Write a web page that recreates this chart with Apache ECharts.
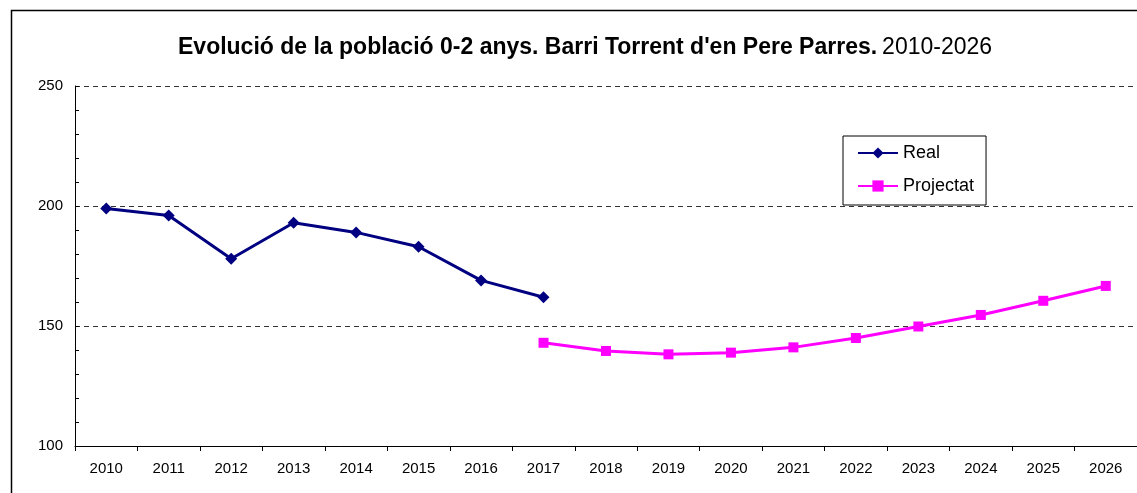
<!DOCTYPE html>
<html>
<head>
<meta charset="utf-8">
<script src="https://cdn.jsdelivr.net/npm/echarts@6/dist/echarts.min.js"></script>
<style>
  html, body { margin: 0; padding: 0; background: #fff; }
  #chart { width: 1137px; height: 493px; }
</style>
</head>
<body>
<div id="chart"></div>
<script>
var years = ["2010", "2011", "2012", "2013", "2014", "2015", "2016", "2017", "2018",
    "2019", "2020", "2021", "2022", "2023", "2024", "2025", "2026"];
var real = [199, 196, 178, 193, 189, 183, 169, 162, null, null, null, null, null, null, null, null, null];
var projectat = [null, null, null, null, null, null, null, 143, 139.6, 138.2, 138.9, 141.1, 145, 149.8, 154.6, 160.5, 166.7];

var myChart = echarts.init(document.getElementById("chart"));
var FONT = "Liberation Sans, Arial, sans-serif";
option = {
    animation: false,
    backgroundColor: "#fff",
    graphic: [
        {
            type: "rect",
            shape: { x: 11.5, y: 10.5, width: 1200, height: 600 },
            style: { fill: "none", stroke: "#000", lineWidth: 1.5 },
            z: 100
        }
    ],
    title: {
        text: "{b|Evolució de la població 0-2 anys. Barri Torrent d'en Pere Parres.} {n|2010-2026}",
        left: 173,
        top: 31,
        textStyle: {
            fontWeight: "normal",
            rich: {
                b: { fontFamily: FONT, fontSize: 23, fontWeight: "bold", color: "#000" },
                n: { fontFamily: FONT, fontSize: 23, fontWeight: "normal", color: "#000" }
            }
        }
    },
    legend: {
        orient: "vertical",
        left: 843,
        top: 136,
        padding: [8, 12, 10, 14],
        itemWidth: 40,
        itemHeight: 14,
        itemGap: 15,
        borderColor: "#000",
        borderWidth: 1,
        backgroundColor: "#fff",
        textStyle: { fontFamily: FONT, fontSize: 18, color: "#000" },
        data: ["Real", "Projectat"]
    },
    grid: { left: 75, top: 86, right: -5, bottom: 47 },
    xAxis: {
        type: "category",
        data: years,
        boundaryGap: true,
        axisLine: { lineStyle: { color: "#000", width: 1 } },
        axisTick: { show: true, length: 5, lineStyle: { color: "#000" } },
        axisLabel: { fontFamily: FONT, fontSize: 15, color: "#000", margin: 15 }
    },
    yAxis: {
        type: "value",
        min: 100,
        max: 250,
        interval: 50,
        axisLine: { show: true, lineStyle: { color: "#000", width: 1 } },
        axisTick: { show: true, inside: true, length: 4, lineStyle: { color: "#000" } },
        minorTick: { show: true, splitNumber: 5, length: 4, lineStyle: { color: "#000" } },
        axisLabel: { fontFamily: FONT, fontSize: 15, color: "#000", margin: 12 },
        splitLine: { show: true, lineStyle: { color: "#333", type: [5, 4], width: 1 } }
    },
    series: [
        {
            name: "Real",
            type: "line",
            data: real,
            color: "#000080",
            symbol: "diamond",
            symbolSize: 12,
            lineStyle: { width: 3 },
            connectNulls: false
        },
        {
            name: "Projectat",
            type: "line",
            data: projectat,
            color: "#ff00ff",
            symbol: "rect",
            symbolSize: 10,
            lineStyle: { width: 3 },
            connectNulls: false
        }
    ]
};
myChart.setOption(option, true);
</script>
</body>
</html>
